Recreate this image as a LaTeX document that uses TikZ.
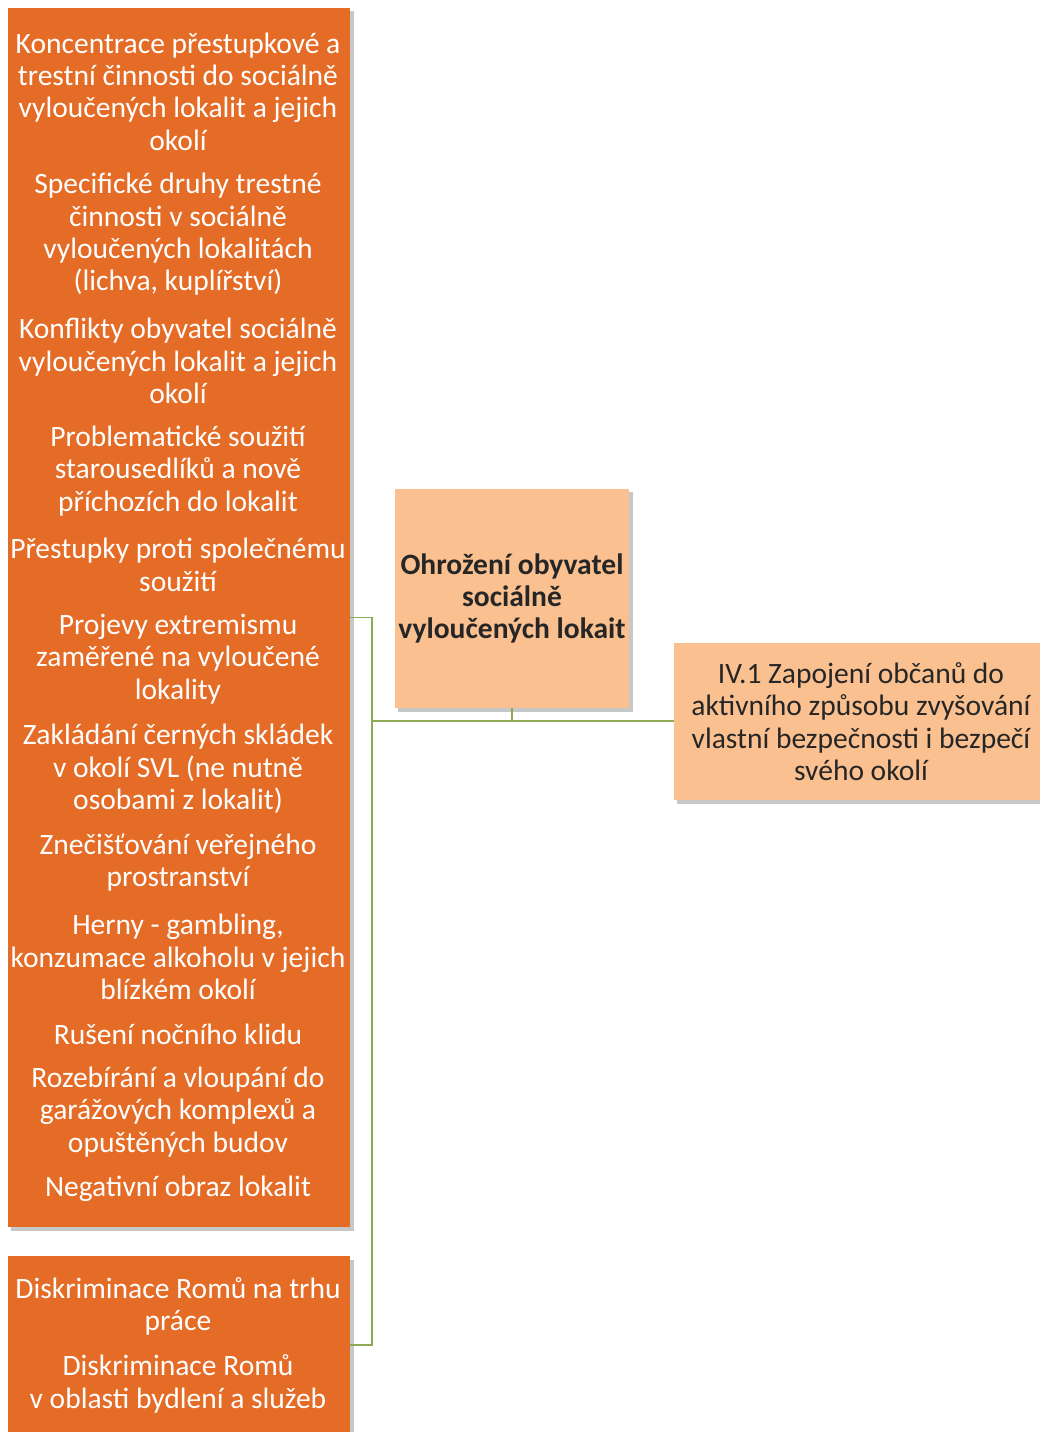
\documentclass[tikz,border=0pt]{standalone}
\usepackage{fontspec}
\setmainfont{Carlito}
\usetikzlibrary{shadows}
\definecolor{deeporange}{HTML}{E46C26}
\definecolor{paleorange}{HTML}{FAC090}
\definecolor{inkgray}{HTML}{262626}
\definecolor{linkgreen}{HTML}{8DAA55}
\tikzset{
  block/.style={fill=deeporange,inner sep=0pt,
    drop shadow={shadow xshift=2.5pt,shadow yshift=-2.5pt,opacity=0.22,fill=black}},
  topic/.style={fill=paleorange,inner sep=0pt,align=center,text=inkgray,
    font=\fontsize{21}{23}\selectfont,
    drop shadow={shadow xshift=2.5pt,shadow yshift=-2.5pt,opacity=0.22,fill=black}},
  item/.style={text=white,align=center,inner sep=0pt,font=\fontsize{21}{23}\selectfont},
  link/.style={draw=linkgreen,line width=1.2pt}
}
\begin{document}
\begin{tikzpicture}[x=0.025cm,y=-0.025cm]
  \useasboundingbox (0,0) rectangle (1039,1432);
  % boxes
  \node[block,minimum width=8.55cm,minimum height=30.475cm] (b1) at (179,617.5) {};
  \node[block,minimum width=8.55cm,minimum height=4.45cm] (b2) at (179,1345) {};
  \node[topic,font=\fontsize{21}{23}\bfseries,minimum width=5.85cm,minimum height=5.475cm]
    (b0) at (512,598.5) {Ohrožení obyvatel\\sociálně\\vyloučených lokait};
  \node[topic,minimum width=9.35cm,minimum height=3.925cm] (goal) at (861,721.5)
    {IV.1 Zapojení občanů do\\aktivního způsobu zvyšování\\vlastní bezpečnosti i bezpečí\\svého okolí};
  % items of the first box
  \node[item] (k1) at (178,91.5) {Koncentrace přestupkové a\\trestní činnosti do sociálně\\vyloučených lokalit a jejich\\okolí};
  \node[item] (k2) at (178,234.5) {Specifické druhy trestné\\činnosti v sociálně\\vyloučených lokalitách\\(lichva, kuplířství)};
  \node[item] (k3) at (178,361) {Konflikty obyvatel sociálně\\vyloučených lokalit a jejich\\okolí};
  \node[item] (k4) at (178,471) {Problematické soužití\\starousedlíků a nově\\příchozích do lokalit};
  \node[item] (k5) at (178,565) {Přestupky proti společnému\\soužití};
  \node[item] (k6) at (178,659) {Projevy extremismu\\zaměřené na vyloučené\\lokality};
  \node[item] (k7) at (178,769) {Zakládání černých skládek\\v okolí SVL (ne nutně\\osobami z lokalit)};
  \node[item] (k8) at (178,862.5) {Znečišťování veřejného\\prostranství};
  \node[item] (k9) at (178,957) {Herny - gambling,\\konzumace alkoholu v jejich\\blízkém okolí};
  \node[item] (k10) at (178,1034) {Rušení nočního klidu};
  \node[item] (k11) at (178,1112) {Rozebírání a vloupání do\\garážových komplexů a\\opuštěných budov};
  \node[item] (k12) at (178,1189) {Negativní obraz lokalit};
  % items of the second box
  \node[item] (d1) at (178,1306.5) {Diskriminace Romů na trhu\\práce};
  \node[item] (d2) at (178,1384) {Diskriminace Romů\\v oblasti bydlení a služeb};
  % connectors
  \coordinate (hub) at (372,721);
  \draw[link] (b1.east) -| (hub);
  \draw[link] (b2.east) -| (hub);
  \draw[link] (hub) -- (goal.west |- hub);
  \draw[link] (b0.south) -- (b0.south |- hub);
\end{tikzpicture}
\end{document}
